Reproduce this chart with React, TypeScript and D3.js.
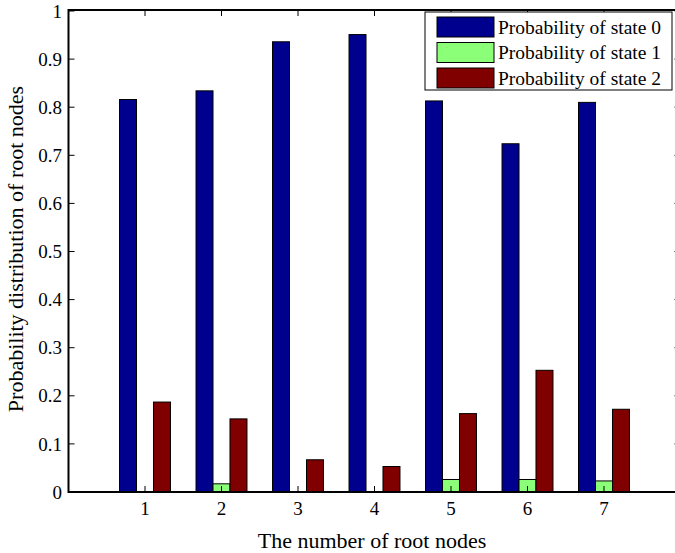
import React from "react";
import { scaleLinear, range } from "d3";

const width = 675;
const height = 553;

const groups = [1, 2, 3, 4, 5, 6, 7];
const state0 = [0.816, 0.834, 0.936, 0.951, 0.813, 0.724, 0.81];
const state1 = [0, 0.017, 0, 0, 0.026, 0.026, 0.023];
const state2 = [0.187, 0.152, 0.067, 0.053, 0.163, 0.253, 0.172];
const seriesNames = ["Probability of state 0", "Probability of state 1", "Probability of state 2"];
const colors = ["#00008F", "#8CFF78", "#800000"];
const yTicks = range(0, 11).map((i) => i / 10);

const series = [state0, state1, state2];

const plot = { left: 68.5, right: 680.5, top: 10, bottom: 492 };

export default function App() {
  const xScale = scaleLinear().domain([0, 8]).range([plot.left, plot.right]);
  const yScale = scaleLinear().domain([0, 1]).range([plot.bottom, plot.top + 1]);

  const barW = 0.222; // in x units
  const font = "'Liberation Serif', 'Times New Roman', serif";

  return (
    <svg
      width={width}
      height={height}
      style={{ position: "absolute", left: 0, top: 0, background: "#fff" }}
      fontFamily={font}
    >
      <rect width={width} height={height} fill="#fff" />

      {/*bars*/}
      {series.map((vals, s) =>
        vals.map((v, i) => {
          const x0 = xScale(groups[i] + (s - 1.5) * barW);
          const x1 = xScale(groups[i] + (s - 0.5) * barW);
          const y = yScale(v);
          return (
            <rect
              key={`${s}-${i}`}
              x={x0}
              y={y}
              width={x1 - x0}
              height={plot.bottom - y}
              fill={colors[s]}
              stroke="#000"
              strokeWidth={1}
            />
          );
        })
      )}

      {/*Y axis ticks*/}
      {yTicks.map((t) => (
        <g key={t} transform={`translate(0, ${yScale(t)})`}>
          <line x1={plot.left} x2={plot.left + 6} stroke="#000" strokeWidth={1} />
          <line x1={plot.right - 6} x2={plot.right} stroke="#000" strokeWidth={1} />
          <text x={62} dy="0.35em" textAnchor="end" fontSize={19}>
            {t}
          </text>
        </g>
      ))}

      {/*X axis ticks*/}
      {groups.map((g) => (
        <g key={g} transform={`translate(${xScale(g)}, 0)`}>
          <line y1={plot.bottom} y2={plot.bottom - 6} stroke="#000" strokeWidth={1} />
          <line y1={plot.top} y2={plot.top + 6} stroke="#000" strokeWidth={1} />
          <text y={515} textAnchor="middle" fontSize={19}>
            {g}
          </text>
        </g>
      ))}

      {/*box*/}
      <rect
        x={plot.left}
        y={plot.top}
        width={plot.right - plot.left}
        height={plot.bottom - plot.top}
        fill="none"
        stroke="#000"
        strokeWidth={2}
      />

      {/*titles*/}
      <text x={372} y={548} textAnchor="middle" fontSize={22}>
        The number of root nodes
      </text>
      <text
        transform={`translate(23, 249) rotate(-90)`}
        textAnchor="middle"
        fontSize={22}
      >
        Probability distribution of root nodes
      </text>

      {/*legend*/}
      <g>
        <rect x={425} y={12} width={247} height={78} fill="#fff" stroke="#000" strokeWidth={1} />
        {seriesNames.map((name, i) => (
          <g key={name} transform={`translate(0, ${17 + i * 25.5})`}>
            <rect x={437} y={0} width={57} height={20} fill={colors[i]} stroke="#000" strokeWidth={1} />
            <text x={498} y={10} dy="0.35em" fontSize={19.5}>
              {name}
            </text>
          </g>
        ))}
      </g>
    </svg>
  );
}
